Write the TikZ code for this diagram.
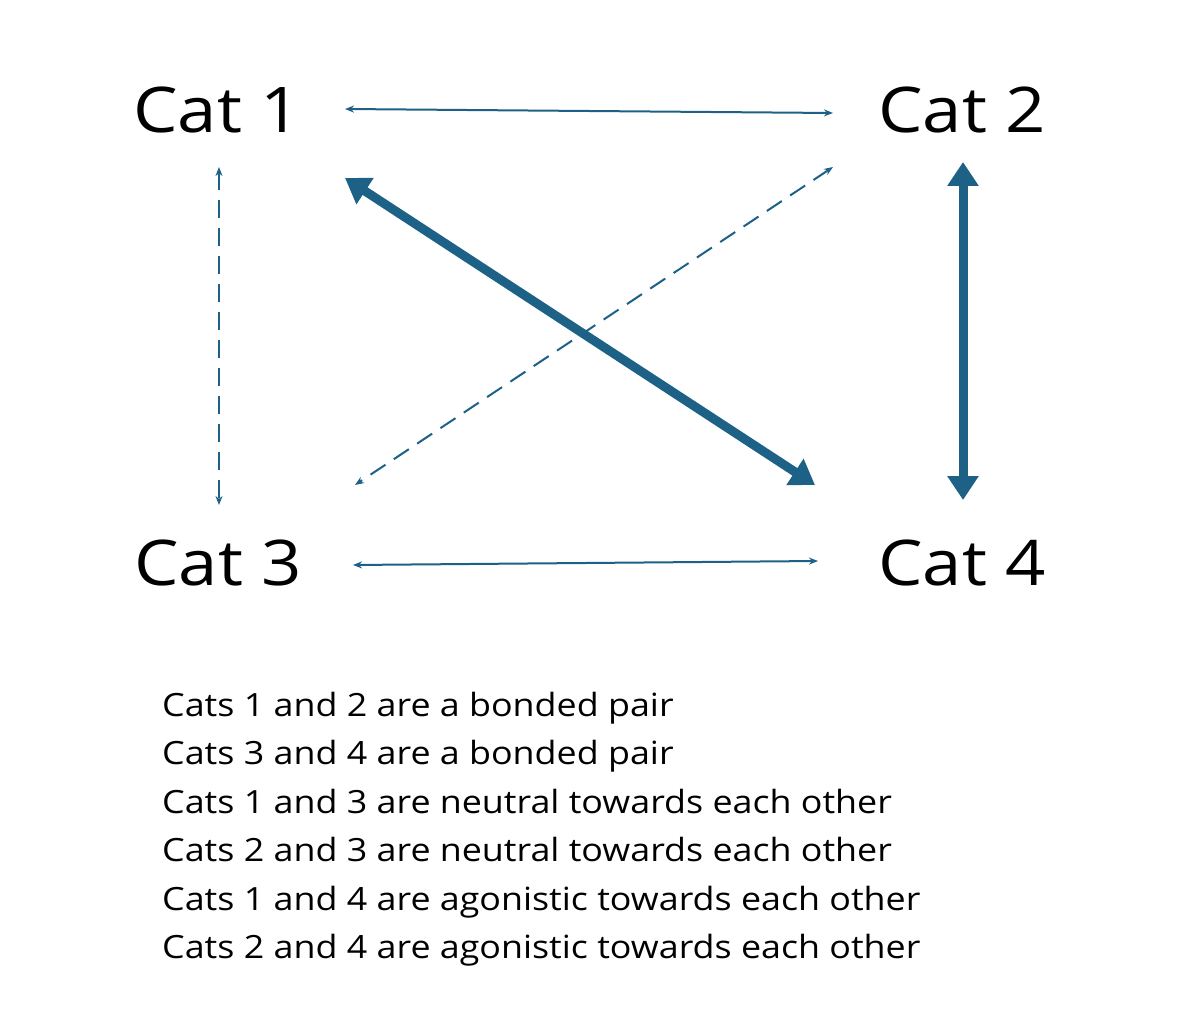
\documentclass[tikz,border=0pt]{standalone}
\usepackage{fontspec}
\setmainfont{Open Sans}
\newfontfamily\widefont[FakeStretch=1.12]{Open Sans}
\usetikzlibrary{arrows.meta}
\definecolor{ac}{HTML}{1D6186}
\begin{document}
\begin{tikzpicture}[x=1pt,y=-1pt,
  cat/.style={font=\widefont\fontsize{63}{63}\selectfont},
  thinarr/.style={ac,line width=2pt,{Stealth[length=9pt,width=7pt]}-{Stealth[length=9pt,width=7pt]}},
  dasharr/.style={thinarr,dash pattern=on 18pt off 10pt},
  thickarr/.style={ac,line width=9pt,{Triangle[length=24pt,width=30pt]}-{Triangle[length=24pt,width=30pt]}},
  txt/.style={anchor=base west,inner sep=0pt,font=\widefont\fontsize{32}{32}\selectfont}]
\useasboundingbox (0,0) rectangle (1200,1027);
\node[cat] (c1) at (217,110) {Cat 1};
\node[cat] (c2) at (962,110) {Cat 2};
\node[cat] (c3) at (218,563) {Cat 3};
\node[cat] (c4) at (962,563) {Cat 4};
\coordinate (a1) at (345,109); \coordinate (a2) at (833,113);
\coordinate (b1) at (353,565); \coordinate (b2) at (818,561);
\coordinate (d1) at (219,167); \coordinate (d2) at (219,505);
\coordinate (e1) at (833,167); \coordinate (e2) at (355,485);
\coordinate (f1) at (345,178); \coordinate (f2) at (815,485);
\coordinate (g1) at (963,162); \coordinate (g2) at (963,500);
\draw[thinarr] (a1) -- (a2);
\draw[thinarr] (b1) -- (b2);
\draw[dasharr] (d1) -- (d2);
\draw[dasharr] (e1) -- (e2);
\draw[thickarr] (f1) -- (f2);
\draw[thickarr] (g1) -- (g2);
\node[txt] (t1) at (162,716) {Cats 1 and 2 are a bonded pair};
\node[txt] (t2) at (162,764.5) {Cats 3 and 4 are a bonded pair};
\node[txt] (t3) at (162,813) {Cats 1 and 3 are neutral towards each other};
\node[txt] (t4) at (162,861.5) {Cats 2 and 3 are neutral towards each other};
\node[txt] (t5) at (162,910) {Cats 1 and 4 are agonistic towards each other};
\node[txt] (t6) at (162,958.5) {Cats 2 and 4 are agonistic towards each other};
\end{tikzpicture}
\end{document}
